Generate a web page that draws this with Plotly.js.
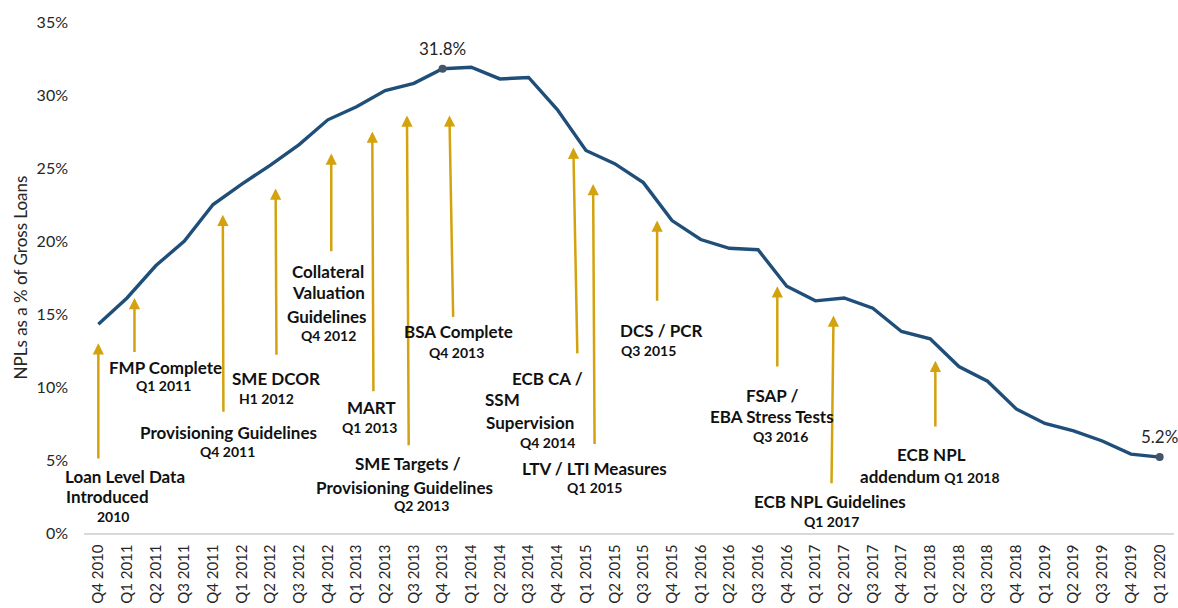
<!DOCTYPE html>
<html>
<head>
<meta charset="utf-8">
<script src="https://cdn.plot.ly/plotly-3.0.1.min.js"></script>
<style>html,body{margin:0;padding:0;background:#fff;}#chart{width:1178px;height:608px;}</style>
</head>
<body>
<div id="chart"></div>
<script>
// ---- data ----
const quarters = ["Q4 2010",
  "Q1 2011","Q2 2011","Q3 2011","Q4 2011",
  "Q1 2012","Q2 2012","Q3 2012","Q4 2012",
  "Q1 2013","Q2 2013","Q3 2013","Q4 2013",
  "Q1 2014","Q2 2014","Q3 2014","Q4 2014",
  "Q1 2015","Q2 2015","Q3 2015","Q4 2015",
  "Q1 2016","Q2 2016","Q3 2016","Q4 2016",
  "Q1 2017","Q2 2017","Q3 2017","Q4 2017",
  "Q1 2018","Q2 2018","Q3 2018","Q4 2018",
  "Q1 2019","Q2 2019","Q3 2019","Q4 2019",
  "Q1 2020"];
const nplRatio = [14.3,16.1,18.3,20.0,22.5,23.9,25.2,26.6,28.3,29.2,30.3,30.8,31.8,
  31.9,31.1,31.2,29.0,26.2,25.3,24.0,21.4,20.1,19.5,19.4,16.9,15.9,16.1,15.4,
  13.8,13.3,11.4,10.4,8.5,7.5,7.0,6.3,5.4,5.2];
const highlightQuarters = ["Q4 2013","Q1 2020"];
const yTicks = [0,5,10,15,20,25,30,35];

// event labels: [main lines..., date line]
const eventTexts = [
  ["Loan Level Data","Introduced","2010"],
  ["FMP Complete","Q1 2011"],
  ["Provisioning Guidelines","Q4 2011"],
  ["SME DCOR","H1 2012"],
  ["Collateral","Valuation","Guidelines","Q4 2012"],
  ["MART","Q1 2013"],
  ["SME Targets /","Provisioning Guidelines","Q2 2013"],
  ["BSA Complete","Q4 2013"],
  ["ECB CA /","SSM","Supervision","Q4 2014"],
  ["LTV / LTI Measures","Q1 2015"],
  ["DCS / PCR","Q3 2015"],
  ["FSAP /","EBA Stress Tests","Q3 2016"],
  ["ECB NPL Guidelines","Q1 2017"],
  ["ECB NPL","addendum Q1 2018"]
];

// ---- layout of annotations (positions in axis units: category index, percent) ----
// arrows: [headX, headY, tailX, tailY]
const arrowPos = [
  [0.0,13.0, 0.0,5.0],
  [1.26,16.1, 1.26,12.3],
  [4.34,21.8, 4.36,8.2],
  [6.18,23.6, 6.21,12.1],
  [8.12,26.0, 8.12,19.2],
  [9.55,27.5, 9.59,9.6],
  [10.76,28.6, 10.82,5.9],
  [12.24,28.6, 12.37,14.7],
  [16.56,26.4, 16.70,12.2],
  [17.25,23.9, 17.30,6.0],
  [19.48,21.4, 19.48,15.8],
  [23.67,16.9, 23.67,11.3],
  [25.63,14.9, 25.56,3.3],
  [29.18,11.8, 29.18,7.2]
];
// text line centres [x, y] per event line
const textPos = [
  [[0.94,3.84],[0.33,2.47],[0.52,1.10]],
  [[2.34,11.37],[2.27,10.07]],
  [[4.53,6.85],[4.50,5.55]],
  [[6.21,10.55],[5.86,9.18]],
  [[8.02,17.88],[8.02,16.44],[7.98,14.86],[8.02,13.56]],
  [[9.52,8.63],[9.45,7.26]],
  [[10.81,4.73],[10.67,3.15],[11.26,1.85]],
  [[12.55,13.77],[12.48,12.33]],
  [[15.66,10.55],[14.10,9.11],[15.06,7.60],[15.66,6.23]],
  [[17.29,4.45],[17.29,3.15]],
  [[19.60,13.84],[19.18,12.47]],
  [[23.50,9.45],[23.50,7.95],[23.78,6.58]],
  [[25.52,2.19],[25.56,0.82]],
  [[29.04,5.41],[29.01,3.90]]
];

const FONT = "Lato, 'Open Sans', sans-serif";
const ARROW = "#D4A20E";
const TXT = "#111111";
const BIG = 17, SMALL = 14;

const annotations = [];
arrowPos.forEach(a => {
  annotations.push({x:a[0], y:a[1], xref:'x', yref:'y', ax:a[2], ay:a[3], axref:'x', ayref:'y',
    text:'', showarrow:true, arrowhead:2, arrowsize:0.9, arrowwidth:2.5, arrowcolor:ARROW, standoff:0, startstandoff:0});
});
eventTexts.forEach((lines, i) => {
  lines.forEach((ln, j) => {
    const isDate = (j === lines.length - 1);
    let txt, size = BIG;
    if (ln.startsWith("addendum")) {
      txt = '<b>addendum <span style="font-size:' + SMALL + 'px">' + ln.replace("addendum ","") + '</span></b>';
    } else {
      txt = '<b>' + ln + '</b>';
      if (isDate) size = SMALL;
    }
    const p = textPos[i][j];
    annotations.push({x:p[0], y:p[1], xref:'x', yref:'y', text:txt, showarrow:false,
      xanchor:'center', yanchor:'middle', font:{family:FONT, size:size, color:TXT}});
  });
});
highlightQuarters.forEach(q => {
  const k = quarters.indexOf(q);
  annotations.push({x:q, y:nplRatio[k], xref:'x', yref:'y', text:nplRatio[k].toFixed(1)+'%',
    showarrow:false, yanchor:'bottom', yshift:8, font:{family:FONT, size:17, color:'#262626'}});
});

const traces = [
  {x:quarters, y:nplRatio, type:'scatter', mode:'lines',
   line:{color:'#1F4E79', width:3.4}, hoverinfo:'skip'},
  {x:highlightQuarters, y:highlightQuarters.map(q => nplRatio[quarters.indexOf(q)]),
   type:'scatter', mode:'markers', marker:{color:'#44546A', size:8}, hoverinfo:'skip'}
];

const layout = {
  width:1178, height:608,
  margin:{l:84, r:4, t:22, b:75},
  paper_bgcolor:'#fff', plot_bgcolor:'#fff',
  showlegend:false,
  font:{family:FONT, color:'#262626'},
  xaxis:{type:'category', categoryorder:'array', categoryarray:quarters,
    range:[-0.5, quarters.length-0.5], tickangle:-90, showgrid:false, zeroline:false,
    showline:true, linecolor:'#D9D9D9', linewidth:1.5, ticks:'',
    tickfont:{family:FONT, size:15, color:'#262626'}, ticklabelstandoff:4, automargin:false},
  yaxis:{range:[0,35], tickvals:yTicks, ticktext:yTicks.map(v => v+'%'), showgrid:false, zeroline:false,
    showline:false, ticks:'', tickfont:{family:FONT, size:16, color:'#262626'}, ticklabelstandoff:15,
    title:{text:'NPLs as a % of Gross Loans', font:{family:FONT, size:17, color:'#262626'}, standoff:4},
    automargin:false},
  annotations:annotations
};

Plotly.newPlot('chart', traces, layout, {displayModeBar:false, staticPlot:true});
</script>
</body>
</html>
